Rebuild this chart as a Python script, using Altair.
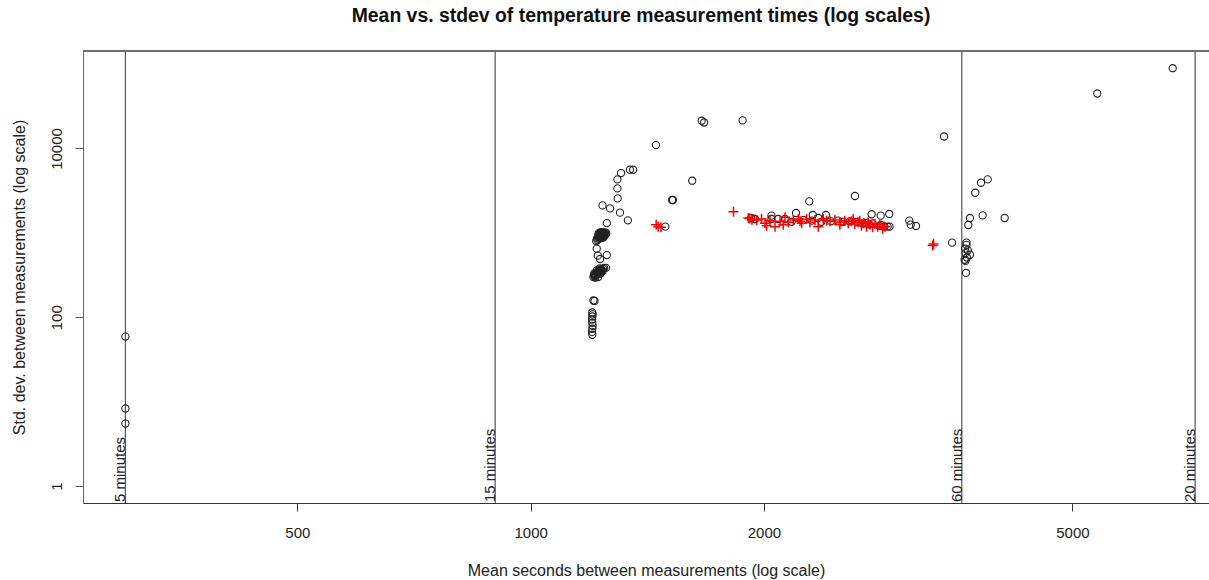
import altair as alt
import pandas as pd

# ---- data ----
circ_mean = [300, 300, 300,
             1201, 1202, 1201, 1200, 1201, 1202, 1201, 1200, 1201, 1205, 1209,
             1205, 1210, 1215, 1220, 1225, 1230, 1235, 1240, 1212, 1222, 1232, 1208, 1218, 1228, 1238, 1244,
             1207, 1213, 1217, 1223, 1227, 1233, 1211, 1219, 1226, 1231, 1236, 1214, 1209, 1221,
             1217, 1221, 1254, 1229, 1251, 1254,
             1225, 1230, 1235, 1240, 1245, 1250, 1238, 1228, 1222, 1232, 1242, 1218, 1226, 1236, 1248, 1252, 1220, 1215,
             1227, 1233, 1239, 1244, 1224, 1229, 1234, 1241, 1246, 1231, 1237, 1223, 1243, 1236,
             1294, 1294, 1295, 1238, 1266, 1304, 1335, 1308, 1343, 1356, 1451,
             1616, 1522, 1526, 1492, 1662, 1674, 1877, 1947, 3415, 2621, 2288, 2200, 2312, 2404, 2754, 2829, 2902,
             3080, 3093, 3142, 3497,
             3888, 3811, 3747, 3688, 3670, 3830, 4089,
             3650, 3650, 3635, 3665, 3640, 3688, 3655, 3630, 3640, 3645,
             5384, 6736,
             1926, 1947, 2045, 2045, 2129, 2171, 2305, 2350, 2372, 2492, 2579, 2630, 2708, 2762, 2831, 2888, 2905,
             2860, 2818, 2737, 2683, 2530, 2440, 2250, 2087]
circ_sd = [59, 8.3, 5.5,
           114, 108, 102, 94, 86, 79, 73, 67, 62, 158, 156,
           300, 310, 320, 330, 345, 355, 365, 375, 295, 300, 340, 330, 360, 380, 350, 385,
           315, 325, 335, 350, 360, 365, 305, 345, 370, 330, 355, 315, 320, 340,
           650, 537, 545, 490, 385, 1305,
           1000, 990, 980, 965, 950, 960, 940, 920, 890, 900, 920, 860, 850, 870, 1010, 990, 820, 800,
           930, 960, 985, 940, 910, 880, 950, 1000, 975, 1010, 905, 955, 890, 1020,
           4300, 3363, 2560, 2115, 1950, 1734, 1406, 5115, 5600, 5600, 10970,
           4150, 2450, 2450, 1184, 21300, 20300, 21500, 1460, 13870, 2733, 2360, 1719, 1629, 1629, 1660, 1599, 1674,
           1394, 1250, 1207, 765,
           4300, 3927, 2990, 1500, 1240, 1611, 1500,
           765, 720, 650, 620, 575, 550, 510, 480, 465, 335,
           44800, 89400,
           1500, 1460, 1599, 1460, 1460, 1350, 1394, 1500, 1350, 1394, 1370, 1350, 1310, 1290, 1240, 1184, 1184,
           1184, 1207, 1250, 1290, 1350, 1370, 1420, 1460]

plus_mean = [1827, 1461, 1473, 1452, 1918, 1930, 3302, 3310,
             1909, 1986, 2006, 2016, 2067, 2098, 2129, 2150, 2182, 2215, 2237, 2270, 2293, 2327, 2350,
             2385, 2433, 2469, 2506, 2543, 2569, 2594, 2620, 2646, 2672, 2691, 2712, 2740, 2762, 2781,
             2803, 2822, 2845, 2865, 2607, 2659, 2726, 2506, 2409, 2036, 1957, 2226, 2118]
plus_sd = [1782, 1184, 1165, 1250, 1475, 1430, 706, 740,
           1499, 1459, 1297, 1217, 1184, 1369, 1527, 1333, 1420, 1459, 1297, 1459, 1333, 1420, 1184,
           1459, 1369, 1420, 1333, 1394, 1297, 1369, 1273, 1333, 1217, 1297, 1184, 1250, 1163, 1273,
           1184, 1250, 1111, 1184, 1459, 1394, 1333, 1250, 1394, 1394, 1420, 1369, 1250]

line_secs = [300, 900, 3600, 7200]
line_labels = ["5 minutes", "15 minutes", "60 minutes", "20 minutes"]

x_ticks = [500, 1000, 2000, 5000]
y_ticks = [1, 100, 10000]

title_text = ["Mean vs. stdev of temperature measurement times (log scales)"]

FONT = "Liberation Sans"
W, H = 1126, 452

circ_df = pd.DataFrame({"mean": circ_mean, "sd": circ_sd})
plus_df = pd.DataFrame({"mean": plus_mean, "sd": plus_sd})
line_df = pd.DataFrame({"mean": line_secs, "label": line_labels})
title_df = pd.DataFrame({"t": title_text})

xscale = alt.Scale(type="log", domain=[264.5, 7503], nice=False, zero=False)
yscale = alt.Scale(type="log", domain=[0.629, 142900], nice=False, zero=False)

xaxis = alt.Axis(
    title="Mean seconds between measurements (log scale)",
    values=x_ticks, format="d", grid=False,
    tickSize=8, tickColor="#333", domainColor="#333",
    labelPadding=14, labelFont=FONT, labelFontSize=15, labelColor="#222",
    titleFont=FONT, titleFontSize=16, titleFontWeight="normal", titleColor="#222",
    titleBaseline="alphabetic", titleY=72,
)
yaxis = alt.Axis(
    title="Std. dev. between measurements (log scale)",
    values=y_ticks, format="d", grid=False,
    tickSize=8, tickColor="#555", domainColor="#666",
    labelAngle=270, labelAlign="center", labelBaseline="alphabetic",
    labelPadding=14, labelFont=FONT, labelFontSize=15, labelColor="#222",
    titleFont=FONT, titleFontSize=16, titleFontWeight="normal", titleColor="#222",
    titleAngle=270, titleBaseline="alphabetic", titleX=-59, titleY=H / 2,
)

vlines = alt.Chart(line_df).mark_rule(color="#555", strokeWidth=1.2).encode(
    x=alt.X("mean:Q", scale=xscale, axis=xaxis),
    y=alt.value(0), y2=alt.value(H),
)

vlabels = alt.Chart(line_df).mark_text(
    angle=270, align="left", baseline="alphabetic", font=FONT, fontSize=15, color="#222"
).encode(
    x=alt.X("mean:Q", scale=xscale),
    y=alt.value(H - 1),
    text="label:N",
)

top_border = alt.Chart(line_df).mark_rule(color="#666", strokeWidth=1.2).encode(
    x=alt.value(0), x2=alt.value(W), y=alt.value(0)
)

title_mark = alt.Chart(title_df).mark_text(
    align="center", baseline="alphabetic", font=FONT, fontSize=19.4, fontWeight="bold", color="#111"
).encode(
    x=alt.value(558), y=alt.value(-29), text="t:N"
)

circles = alt.Chart(circ_df).mark_point(
    shape="circle", filled=False, size=52, strokeWidth=1.1, color="#222", opacity=1
).encode(
    x=alt.X("mean:Q", scale=xscale),
    y=alt.Y("sd:Q", scale=yscale, axis=yaxis),
)

pluses = alt.Chart(plus_df).mark_point(
    shape="M-1,0L1,0M0,-1L0,1", filled=False, size=100, strokeWidth=1.5, color="#ff0000", opacity=1
).encode(
    x=alt.X("mean:Q", scale=xscale),
    y=alt.Y("sd:Q", scale=yscale),
)

chart = alt.layer(vlines, top_border, vlabels, title_mark, circles, pluses).properties(
    width=W, height=H,
    autosize=alt.AutoSizeParams(type="none"),
    padding={"left": 83, "top": 51, "right": 0, "bottom": 77},
).configure_view(stroke=None).configure(background="white")

chart.save("out.html", embed_options={"renderer": "svg", "actions": False})
